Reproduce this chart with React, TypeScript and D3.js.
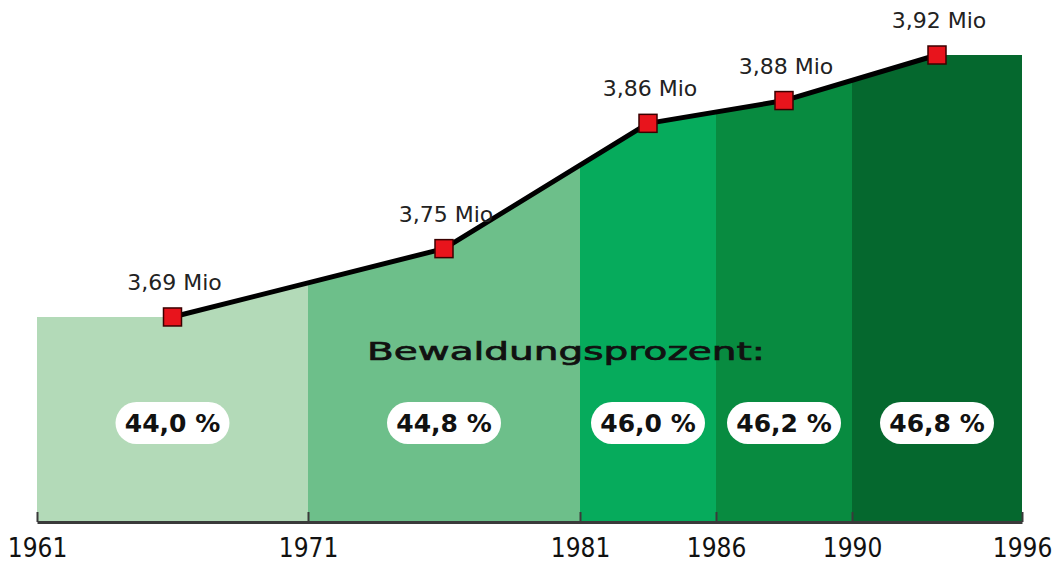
import * as d3 from 'd3';
import { useEffect, useRef } from 'react';

// Period boundaries (x axis) and the forest area / share per period
const years = [1961, 1971, 1981, 1986, 1990, 1996];
const periodMid = [1966, 1976, 1983.5, 1988, 1993];
const forestMio = [3.69, 3.75, 3.86, 3.88, 3.92];
const forestLabels = ['3,69 Mio', '3,75 Mio', '3,86 Mio', '3,88 Mio', '3,92 Mio'];
const sharePct = ['44,0 %', '44,8 %', '46,0 %', '46,2 %', '46,8 %'];
const periodColors = ['#b3dab8', '#6dbf8a', '#06ab5c', '#088b40', '#05682e'];

export default function App() {
    const svgCur = useRef<SVGSVGElement | null>(null);

    useEffect(() => {
        document.body.style.margin = '0';

        const width = 1057;
        const height = 565;
        const axisY = 522;

        if (!svgCur.current) return;
        const svg = d3.select(svgCur.current)
            .attr('width', width)
            .attr('height', height);
        svg.selectAll('*').remove();

        // the original time axis is piecewise (uneven spacing per period)
        const xScale = d3.scaleLinear()
            .domain(years)
            .range([37, 308, 580, 716, 852, 1022]);
        const yScale = d3.scaleLinear().domain([3.51, 3.92]).range([axisY, 55]);

        const pts: [number, number][] = periodMid.map((m, i) => [xScale(m), yScale(forestMio[i])]);
        // area top follows the line, held flat out to both ends
        const top: [number, number][] = [
            [xScale(years[0]), pts[0][1]],
            ...pts,
            [xScale(years[years.length - 1]), pts[pts.length - 1][1]],
        ];

        const topAt = (x: number) => {
            for (let i = 0; i < top.length - 1; i++) {
                const [x0, y0] = top[i];
                const [x1, y1] = top[i + 1];
                if (x >= x0 && x <= x1) return y0 + (y1 - y0) * (x - x0) / (x1 - x0);
            }
            return top[top.length - 1][1];
        };

        const area = d3.area<[number, number]>()
            .x(d => d[0])
            .y0(axisY)
            .y1(d => d[1]);

        // one coloured area per period
        for (let i = 0; i < years.length - 1; i++) {
            const xa = xScale(years[i]);
            const xb = xScale(years[i + 1]);
            const seg: [number, number][] = [[xa, topAt(xa)]];
            top.forEach(p => { if (p[0] > xa && p[0] < xb) seg.push(p); });
            seg.push([xb, topAt(xb)]);
            svg.append('path')
                .datum(seg)
                .attr('fill', periodColors[i])
                .attr('d', area);
        }

        // axis
        const xAxis = d3.axisBottom(xScale)
            .tickValues(years)
            .tickFormat(d3.format('d'))
            .tickSizeInner(-10)
            .tickSizeOuter(0)
            .tickPadding(17);

        svg.append('g')
            .attr('transform', `translate(0,${axisY})`)
            .call(xAxis)
            .call(g => g.select('.domain').attr('stroke', '#3a3a3a').attr('stroke-width', 3))
            .call(g => g.selectAll('.tick line').attr('stroke', '#3a3a3a').attr('stroke-width', 2))
            .call(g => g.selectAll('.tick text')
                .attr('fill', '#111')
                .attr('font-family', '"Liberation Sans Narrow", "DejaVu Sans Condensed", sans-serif')
                .attr('font-size', 26));

        // heading inside the chart
        svg.append('text')
            .attr('x', 367)
            .attr('y', 360)
            .attr('textLength', 398)
            .attr('lengthAdjust', 'spacingAndGlyphs')
            .attr('font-family', '"DejaVu Sans", sans-serif')
            .attr('font-size', 25)
            .attr('fill', '#111')
            .attr('stroke', '#111')
            .attr('stroke-width', 0.7)
            .text('Bewaldungsprozent:');

        // percent pills
        const pills = svg.append('g').selectAll('g')
            .data(sharePct)
            .join('g')
            .attr('transform', (d, i) => `translate(${xScale(periodMid[i])},423)`);
        pills.append('rect')
            .attr('x', -57).attr('y', -21)
            .attr('width', 114).attr('height', 42)
            .attr('rx', 21)
            .attr('fill', '#fff');
        pills.append('text')
            .attr('text-anchor', 'middle')
            .attr('y', 9)
            .attr('font-family', '"DejaVu Sans", sans-serif')
            .attr('font-weight', 'bold')
            .attr('font-size', 25)
            .attr('fill', '#111')
            .text(d => d);

        // line with markers
        svg.append('path')
            .datum(pts)
            .attr('fill', 'none')
            .attr('stroke', '#000')
            .attr('stroke-width', 5)
            .attr('stroke-linejoin', 'round')
            .attr('d', d3.line());

        svg.append('g').selectAll('rect')
            .data(pts)
            .join('rect')
            .attr('x', d => d[0] - 9)
            .attr('y', d => d[1] - 9)
            .attr('width', 18)
            .attr('height', 18)
            .attr('fill', '#e8141c')
            .attr('stroke', '#3a0000')
            .attr('stroke-width', 1.5);

        svg.append('g').selectAll('text')
            .data(pts)
            .join('text')
            .attr('x', d => d[0] + 2)
            .attr('y', d => d[1] - 27)
            .attr('text-anchor', 'middle')
            .attr('font-family', '"DejaVu Sans", sans-serif')
            .attr('font-size', 22)
            .attr('fill', '#222')
            .text((d, i) => forestLabels[i]);
    }, []);

    return (
        <div>
            <svg ref={svgCur} style={{ display: 'block' }}></svg>
        </div>
    );
}
